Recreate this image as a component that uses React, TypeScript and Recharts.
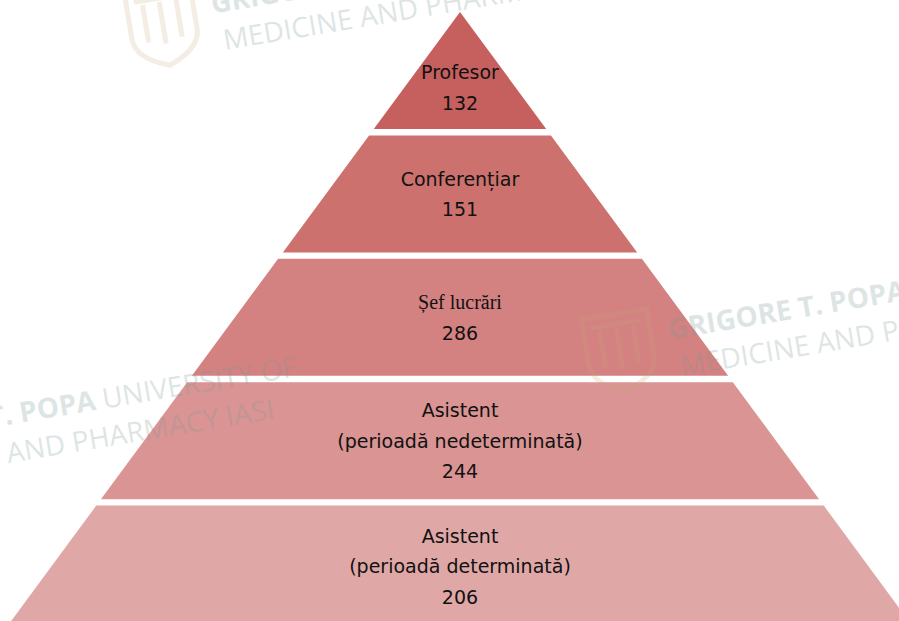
import { BarChart, Bar, XAxis, YAxis, LabelList } from 'recharts';

const tiers = [
  'Profesor',
  'Conferențiar',
  'Șef lucrări',
  'Asistent (perioadă nedeterminată)',
  'Asistent (perioadă determinată)',
];
const tierLines = [
  ['Profesor'],
  ['Conferențiar'],
  ['Șef lucrări'],
  ['Asistent', '(perioadă nedeterminată)'],
  ['Asistent', '(perioadă determinată)'],
];
const counts = [132, 151, 286, 244, 206];
const tierColors = ['#c6605e', '#cc716e', '#d38181', '#d99493', '#dfa8a7'];

const data = tiers.map((tier, i) => ({ tier, count: counts[i], full: 1 }));

const MARGIN = { top: 9, right: 0, bottom: 0, left: 21 };
const GAP = 3;
const APEX_Y = MARGIN.top + GAP;
const SLOPE = 0.737;
const LINE_H = 30.5;

const sansFont = '"DejaVu Sans", Verdana, sans-serif';
const serifFont = '"Liberation Serif", "Times New Roman", serif';

function PyramidTier(props: any) {
  const { x, y, width, height, index } = props;
  const cx = x + width / 2;
  const topHalf = Math.max(0, (y - APEX_Y) * SLOPE);
  const botHalf = (y + height - APEX_Y) * SLOPE;
  const d = `M${cx - topHalf},${y} L${cx + topHalf},${y} L${cx + botHalf},${y + height} L${cx - botHalf},${y + height} Z`;
  return <path d={d} fill={tierColors[index]} />;
}

function TierLabel(props: any) {
  const { x, y, width, height, index } = props;
  const cx = x + width / 2;
  // the apex tier is a triangle, so its text sits lower
  const cy = y + height / 2 + (index === 0 ? 17 : index === 4 ? 2 : 0);
  const lines = [...tierLines[index], String(counts[index])];
  const start = cy - ((lines.length - 1) * LINE_H) / 2;
  return (
    <g>
      {lines.map((line, i) => {
        const serif = index === 2 && i === 0;
        return (
          <text
            key={i}
            x={cx}
            y={start + i * LINE_H}
            textAnchor="middle"
            dominantBaseline="central"
            fill="#111"
            fontFamily={serif ? serifFont : sansFont}
            fontSize={serif ? 20 : 19}
          >
            {line}
          </text>
        );
      })}
    </g>
  );
}

const wmTiles = [
  { x: 225, y: 50 },
  { x: 682, y: 376 },
  { x: -128, y: 486 },
];

function Watermark() {
  return (
    <svg
      width={899}
      height={621}
      style={{ position: 'absolute', left: 0, top: 0, pointerEvents: 'none' }}
    >
      {wmTiles.map((t, i) => (
        <g key={i} transform={`translate(${t.x},${t.y}) rotate(-9.5)`}>
          <g transform="translate(-92,-78)" opacity={0.2} fill="none" stroke="#c8a878" strokeWidth={5}>
            <path d="M2,6 L68,6 L68,52 Q68,72 35,84 Q2,72 2,52 Z" />
            <line x1={18} y1={20} x2={18} y2={58} />
            <line x1={35} y1={20} x2={35} y2={62} />
            <line x1={52} y1={20} x2={52} y2={58} />
            <line x1={10} y1={16} x2={60} y2={16} />
          </g>
          <text
            x={-6}
            y={-38}
            fontFamily='"Open Sans", sans-serif'
            fontSize={28}
            fill="#7d9a98"
            opacity={0.25}
          >
            <tspan fontWeight={700}>GRIGORE T. POPA </tspan>
            <tspan>UNIVERSITY OF</tspan>
          </text>
          <text
            x={0}
            y={0}
            fontFamily='"Open Sans", sans-serif'
            fontSize={28}
            fill="#7d9a98"
            opacity={0.25}
          >
            MEDICINE AND PHARMACY IASI
          </text>
        </g>
      ))}
    </svg>
  );
}

export default function App() {
  return (
    <div
      style={{
        position: 'absolute',
        left: 0,
        top: 0,
        width: 899,
        height: 621,
        overflow: 'hidden',
        background: '#fff',
      }}
    >
      <BarChart
        width={899}
        height={626}
        data={data}
        layout="vertical"
        margin={MARGIN}
        barCategoryGap={GAP}
      >
        <XAxis type="number" domain={[0, 1]} hide />
        <YAxis type="category" dataKey="tier" hide />
        <Bar dataKey="full" shape={<PyramidTier />} isAnimationActive={false}>
          <LabelList dataKey="count" content={<TierLabel />} />
        </Bar>
      </BarChart>
      <Watermark />
    </div>
  );
}
